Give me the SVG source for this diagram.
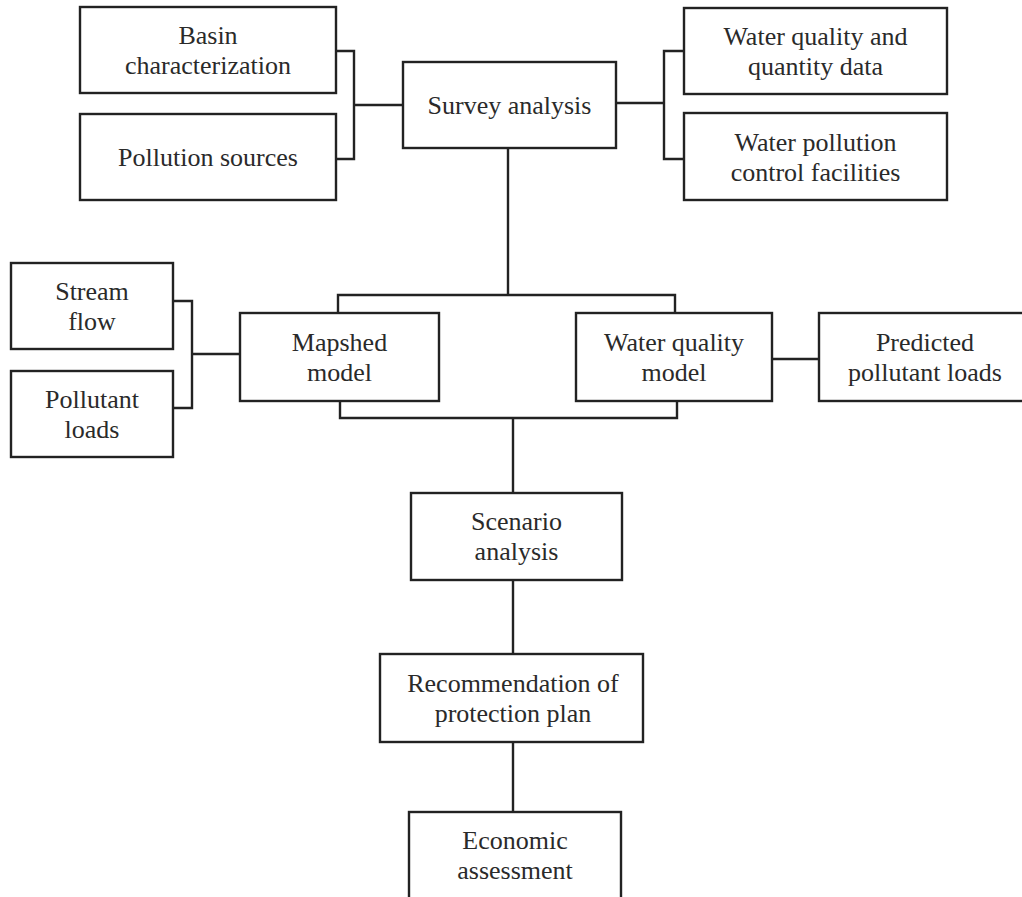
<svg xmlns="http://www.w3.org/2000/svg" width="1022" height="897" viewBox="0 0 1022 897">
<style>
.box{fill:#fff;stroke:#222;stroke-width:2.4}
.con{fill:none;stroke:#222;stroke-width:2.4}
text{font-family:"Liberation Serif","Times New Roman",serif;font-size:26px;fill:#2a2a2a;text-anchor:middle}
</style>
<rect width="1022" height="897" fill="#fff"/>
<g id="connectors">
<path class="con" d="M336,51 H354 V159 H336 M354,105 H403"/>
<path class="con" d="M616,103 H664 M684,51 H664 V159 H684"/>
<path class="con" d="M508,148 V295 M338,313 V295 H675 V313"/>
<path class="con" d="M173,301 H192 V408 H173 M192,354 H240"/>
<path class="con" d="M772,359 H819"/>
<path class="con" d="M340,401 V418 H677 V401 M513,418 V493"/>
<path class="con" d="M513,580 V654 M513,742 V812"/>
</g>
<g id="basin"><rect class="box" x="80" y="7" width="256" height="86"/><text x="208" y="44">Basin</text><text x="208" y="74">characterization</text></g>
<g id="pollution"><rect class="box" x="80" y="114" width="256" height="86"/><text x="208" y="166">Pollution sources</text></g>
<g id="survey"><rect class="box" x="403" y="62" width="213" height="86"/><text x="509.5" y="114">Survey analysis</text></g>
<g id="wqdata"><rect class="box" x="684" y="8" width="263" height="86"/><text x="815.5" y="45">Water quality and</text><text x="815.5" y="75">quantity data</text></g>
<g id="wpcontrol"><rect class="box" x="684" y="113" width="263" height="87"/><text x="815.5" y="151">Water pollution</text><text x="815.5" y="181">control facilities</text></g>
<g id="stream"><rect class="box" x="11" y="263" width="162" height="86"/><text x="92" y="300">Stream</text><text x="92" y="330">flow</text></g>
<g id="pollutant"><rect class="box" x="11" y="371" width="162" height="86"/><text x="92" y="408">Pollutant</text><text x="92" y="438">loads</text></g>
<g id="mapshed"><rect class="box" x="240" y="313" width="199" height="88"/><text x="339.5" y="351">Mapshed</text><text x="339.5" y="381">model</text></g>
<g id="wqmodel"><rect class="box" x="576" y="313" width="196" height="88"/><text x="674" y="351">Water quality</text><text x="674" y="381">model</text></g>
<g id="predicted"><rect class="box" x="819" y="313" width="212" height="88"/><text x="925" y="351">Predicted</text><text x="925" y="381">pollutant loads</text></g>
<g id="scenario"><rect class="box" x="411" y="493" width="211" height="87"/><text x="516.5" y="530">Scenario</text><text x="516.5" y="560">analysis</text></g>
<g id="recommendation"><rect class="box" x="380" y="654" width="263" height="88"/><text x="513" y="692">Recommendation of</text><text x="513" y="722">protection plan</text></g>
<g id="economic"><rect class="box" x="409" y="812" width="212" height="110"/><text x="515" y="849">Economic</text><text x="515" y="879">assessment</text></g>
</svg>
